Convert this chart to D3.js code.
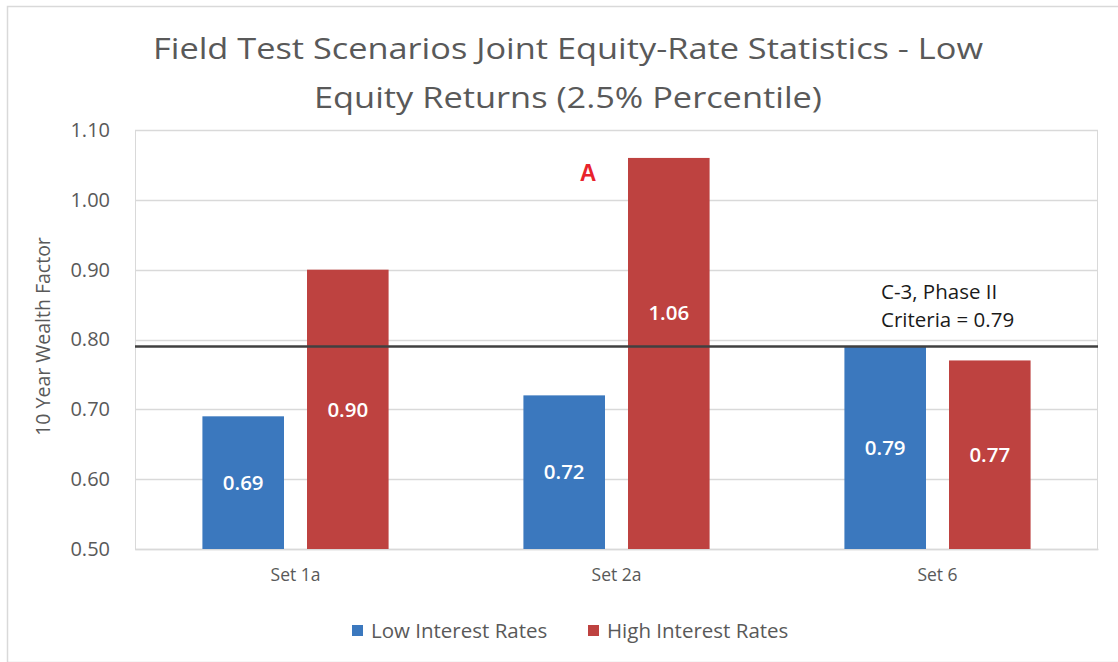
<!DOCTYPE html>
<html>
<head>
<meta charset="utf-8">
<script src="https://cdn.jsdelivr.net/npm/d3@7"></script>
<style>
  html, body { margin: 0; padding: 0; background: #ffffff; }
  svg { display: block; }
  text { font-family: "Open Sans", "Noto Sans", sans-serif; }
</style>
</head>
<body>
<svg id="chart" width="1118" height="662"></svg>
<script>
// Data
const categories = ["Set 1a", "Set 2a", "Set 6"];
const seriesNames = ["Low Interest Rates", "High Interest Rates"];
const lowRates = [0.69, 0.72, 0.79];
const highRates = [0.90, 1.06, 0.77];
const yTicks = [0.50, 0.60, 0.70, 0.80, 0.90, 1.00, 1.10];
const criteria = 0.79;
const criteriaLabel = ["C-3, Phase II", "Criteria = 0.79"];
// label anchor values (where each value label sits inside its bar)
const lowLabelAt = [0.595, 0.61, 0.645];
const highLabelAt = [0.70, 0.838, 0.635];

const colors = ["#3b78be", "#be4240"];
const textGray = "#595959";

const svg = d3.select("#chart");
const W = 1118, H = 662;

// outer chart frame
svg.append("rect")
  .attr("x", 7.5).attr("y", 6.5)
  .attr("width", W + 10).attr("height", H - 6)
  .attr("fill", "#fff").attr("stroke", "#d9d9d9").attr("stroke-width", 1.5);

const margin = { left: 135, right: 20, top: 130, bottom: 113 };
const plotW = W - margin.left - margin.right;
const plotH = H - margin.top - margin.bottom;

const y = d3.scaleLinear().domain([0.5, 1.1]).range([margin.top + plotH, margin.top]);
const x0 = d3.scaleBand().domain(categories)
  .range([margin.left, margin.left + plotW]).paddingInner(0.42).paddingOuter(0.21);
const x1 = d3.scaleBand().domain(seriesNames).range([0, x0.bandwidth()]).paddingInner(0.22);

// Title
const title = svg.append("text")
  .attr("text-anchor", "middle")
  .attr("fill", textGray)
  .style("font-size", "30px");
title.append("tspan").attr("x", 568).attr("y", 59)
  .attr("textLength", 830).attr("lengthAdjust", "spacingAndGlyphs")
  .text("Field Test Scenarios Joint Equity-Rate Statistics - Low");
title.append("tspan").attr("x", 568).attr("y", 108)
  .attr("textLength", 508).attr("lengthAdjust", "spacingAndGlyphs")
  .text("Equity Returns (2.5% Percentile)");

// Gridlines
svg.append("g")
  .selectAll("line").data(yTicks).join("line")
  .attr("x1", margin.left).attr("x2", margin.left + plotW)
  .attr("y1", d => Math.round(y(d)) + 0.5).attr("y2", d => Math.round(y(d)) + 0.5)
  .attr("stroke", "#d9d9d9").attr("stroke-width", 1.5);

// Plot border (left & right sides)
svg.append("rect")
  .attr("x", margin.left + 0.5).attr("y", margin.top + 0.5)
  .attr("width", plotW - 1).attr("height", plotH)
  .attr("fill", "none").attr("stroke", "#d9d9d9").attr("stroke-width", 1);

// Y axis
const yAxis = d3.axisLeft(y).tickValues(yTicks).tickFormat(d3.format(".2f")).tickSize(0).tickPadding(25);
const gy = svg.append("g").attr("transform", `translate(${margin.left},0)`).call(yAxis);
gy.select(".domain").remove();
gy.selectAll("text").attr("fill", textGray).style("font-size", "20px")
  .style("font-family", "'Open Sans', sans-serif");

// Y axis title
svg.append("text")
  .attr("transform", `translate(50,${margin.top + plotH / 2 - 3}) rotate(-90)`)
  .attr("text-anchor", "middle")
  .attr("fill", textGray).style("font-size", "19.5px")
  .text("10 Year Wealth Factor");

// X axis
const xAxis = d3.axisBottom(x0).tickSize(0).tickPadding(20);
const gx = svg.append("g").attr("transform", `translate(0,${margin.top + plotH})`).call(xAxis);
gx.select(".domain").attr("stroke", "#d9d9d9").attr("stroke-width", 1.5);
gx.selectAll("text").attr("fill", textGray).style("font-size", "17.5px")
  .style("font-family", "'Open Sans', sans-serif");

// Bars
const rows = categories.map((c, i) => ({
  cat: c,
  vals: [
    { s: seriesNames[0], v: lowRates[i], at: lowLabelAt[i], k: 0 },
    { s: seriesNames[1], v: highRates[i], at: highLabelAt[i], k: 1 }
  ]
}));

const groups = svg.append("g").selectAll("g").data(rows).join("g")
  .attr("transform", d => `translate(${x0(d.cat)},0)`);

groups.selectAll("rect").data(d => d.vals).join("rect")
  .attr("x", d => x1(d.s))
  .attr("y", d => y(d.v))
  .attr("width", x1.bandwidth())
  .attr("height", d => y(0.5) - y(d.v))
  .attr("fill", d => colors[d.k]);

groups.selectAll("text.val").data(d => d.vals).join("text")
  .attr("class", "val")
  .attr("x", d => x1(d.s) + x1.bandwidth() / 2)
  .attr("y", d => y(d.at))
  .attr("dy", "0.35em")
  .attr("text-anchor", "middle")
  .attr("fill", "#ffffff")
  .style("font-size", "20.5px")
  .style("font-weight", "600")
  .text(d => d.v.toFixed(2));

// Criteria reference line
svg.append("line")
  .attr("x1", margin.left).attr("x2", margin.left + plotW)
  .attr("y1", y(criteria)).attr("y2", y(criteria))
  .attr("stroke", "#404040").attr("stroke-width", 2.5);

const crit = svg.append("text").attr("fill", "#1a1a1a").style("font-size", "20.5px");
criteriaLabel.forEach((t, i) => {
  crit.append("tspan").attr("x", 881).attr("y", y(criteria) - 47 + i * 28).text(t);
});

// Annotation marker
svg.append("text")
  .attr("x", x0(categories[1]) + x1(seriesNames[1]) - 40)
  .attr("y", 181)
  .attr("text-anchor", "middle")
  .attr("fill", "#e8232b")
  .style("font-family", "'Liberation Sans', Arial, sans-serif")
  .style("font-size", "23px").style("font-weight", "bold")
  .text("A");

// Legend
const legendItems = [
  { name: seriesNames[0], x: 352, color: colors[0] },
  { name: seriesNames[1], x: 588, color: colors[1] }
];
const lg = svg.append("g").selectAll("g").data(legendItems).join("g")
  .attr("transform", d => `translate(${d.x},631)`);
lg.append("rect").attr("x", 0).attr("y", -6).attr("width", 11).attr("height", 11)
  .attr("fill", d => d.color);
lg.append("text").attr("x", 19).attr("dy", "0.35em")
  .attr("fill", textGray).style("font-size", "20.5px")
  .text(d => d.name);
</script>
</body>
</html>
